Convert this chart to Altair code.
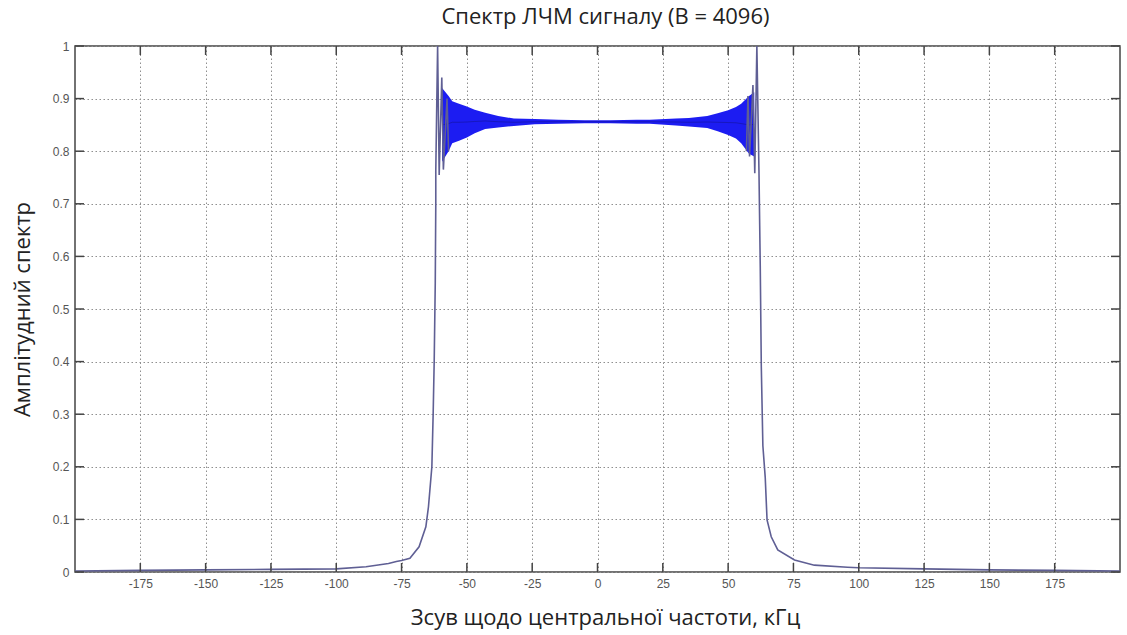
import altair as alt
import pandas as pd

# ---- data ----
# left skirt + edge oscillation (x in kHz, amplitude)
left_x = [-200, -175, -150, -125, -100, -88.6, -80, -77, -75, -71.8, -68.3, -65.7, -64.7,
          -63.4, -62.9, -62.5, -62.1, -61.9, -61.9, -61.2, -60.6, -59.6, -59.0, -57.6, -57.0]
left_y = [0.002, 0.003, 0.004, 0.005, 0.006, 0.010, 0.016, 0.020, 0.022, 0.026, 0.048, 0.086, 0.124,
          0.200, 0.302, 0.403, 0.550, 0.700, 0.764, 1.000, 0.755, 0.940, 0.765, 0.900, 0.800]
# right edge oscillation + skirt
right_x = [57.0, 57.6, 58.2, 59.5, 60.2, 61.0, 61.8, 62.3, 62.7, 63.3, 64.2, 64.9, 66.5, 69.0,
           75.4, 83.0, 95.7, 100, 125, 150, 175, 200]
right_y = [0.800, 0.905, 0.790, 0.926, 0.758, 1.000, 0.764, 0.580, 0.390, 0.240, 0.180, 0.099, 0.067, 0.042,
           0.023, 0.013, 0.009, 0.008, 0.006, 0.004, 0.003, 0.002]

# dense oscillation band on the plateau: upper / lower envelopes
band_x = [-59.5, -57, -55.6, -53, -50, -47, -43, -38, -32, -24, -15, -5, 0,
          5, 15, 20, 30, 35, 42, 46, 50, 53, 55, 58, 60]
band_hi = [0.920, 0.905, 0.895, 0.890, 0.885, 0.879, 0.873, 0.867, 0.862, 0.861, 0.860, 0.859, 0.859,
           0.859, 0.860, 0.860, 0.862, 0.863, 0.867, 0.872, 0.878, 0.884, 0.890, 0.905, 0.912]
band_lo = [0.780, 0.800, 0.815, 0.820, 0.826, 0.834, 0.842, 0.845, 0.848, 0.851, 0.852, 0.853, 0.853,
           0.853, 0.852, 0.852, 0.849, 0.847, 0.844, 0.838, 0.831, 0.824, 0.815, 0.795, 0.790]

x_ticks = [-175, -150, -125, -100, -75, -50, -25, 0, 25, 50, 75, 100, 125, 150, 175]
y_ticks = [0, 0.1, 0.2, 0.3, 0.4, 0.5, 0.6, 0.7, 0.8, 0.9, 1]

W, H = 1045, 526

skirt = pd.DataFrame({
    "x": left_x + right_x,
    "y": left_y + right_y,
    "side": ["L"] * len(left_x) + ["R"] * len(right_x),
    "order": list(range(len(left_x))) + list(range(len(right_x))),
})
band = pd.DataFrame({"x": band_x, "hi": band_hi, "lo": band_lo})
xt = pd.DataFrame({"x": x_ticks})
yt = pd.DataFrame({"y": y_ticks})

xscale = alt.Scale(domain=[-200, 200], nice=False, zero=False)
yscale = alt.Scale(domain=[0, 1], nice=False)

axis_common = dict(
    domain=False, ticks=False,
    grid=True, gridColor="#8f8f8f", gridDash=[1.5, 2.5], gridWidth=1, gridOpacity=1,
    labelFont="Liberation Sans", labelFontSize=12, labelColor="#555555",
    labelPadding=6,
    titleFont="Open Sans", titleFontSize=22, titleFontWeight="normal", titleColor="#222222",
)

xaxis = alt.Axis(values=x_ticks, title="Зсув щодо центральної частоти, кГц",
                 labelExpr="'' + datum.value", titleY=45, titleX=530,
                 titleBaseline="middle", titleAlign="center", **axis_common)
yaxis = alt.Axis(values=y_ticks, title="Амплітудний спектр", format="~g",
                 titleX=-53, titleY=H / 2, titleBaseline="middle", titleAlign="center",
                 **axis_common)

band_layer = alt.Chart(band).mark_area(color="#1c1cf2", opacity=1, clip=True).encode(
    x=alt.X("x:Q", scale=xscale, axis=xaxis),
    y=alt.Y("hi:Q", scale=yscale, axis=yaxis),
    y2="lo:Q",
)
band_mid = alt.Chart(band).mark_line(color="#12128a", strokeWidth=1, opacity=0.5, clip=True).encode(
    x=alt.X("x:Q", scale=xscale),
    y=alt.Y("mid:Q", scale=yscale),
).transform_calculate(mid="(datum.hi + datum.lo) / 2")

line_layer = alt.Chart(skirt).mark_line(color="#5f5f94", strokeWidth=1.6, clip=True).encode(
    x=alt.X("x:Q", scale=xscale),
    y=alt.Y("y:Q", scale=yscale),
    detail="side:N",
    order="order:Q",
)

tick_style = dict(color="#444444", strokeWidth=1.5)
xt_bottom = alt.Chart(xt).mark_rule(**tick_style).encode(
    x=alt.X("x:Q", scale=xscale), y=alt.value(H), y2=alt.value(H - 9))
xt_top = alt.Chart(xt).mark_rule(**tick_style).encode(
    x=alt.X("x:Q", scale=xscale), y=alt.value(0), y2=alt.value(9))
yt_left = alt.Chart(yt).mark_rule(**tick_style).encode(
    y=alt.Y("y:Q", scale=yscale), x=alt.value(0), x2=alt.value(9))
yt_right = alt.Chart(yt).mark_rule(**tick_style).encode(
    y=alt.Y("y:Q", scale=yscale), x=alt.value(W), x2=alt.value(W - 9))

chart = alt.layer(
    band_layer, band_mid, line_layer, xt_bottom, xt_top, yt_left, yt_right
).properties(
    width=W, height=H,
    background="white",
    autosize=alt.AutoSizeParams(type="none"),
    padding={"left": 75, "top": 46, "right": 7, "bottom": 63},
    title=alt.Title("Спектр ЛЧМ сигналу (B = 4096)", fontSize=22, font="Open Sans",
                    fontWeight="normal", color="#222222", offset=11, dx=8, anchor="middle"),
).configure_view(
    stroke="#444444", strokeWidth=1.5
)

chart.save("out.html", embed_options={"renderer": "svg", "actions": False})
